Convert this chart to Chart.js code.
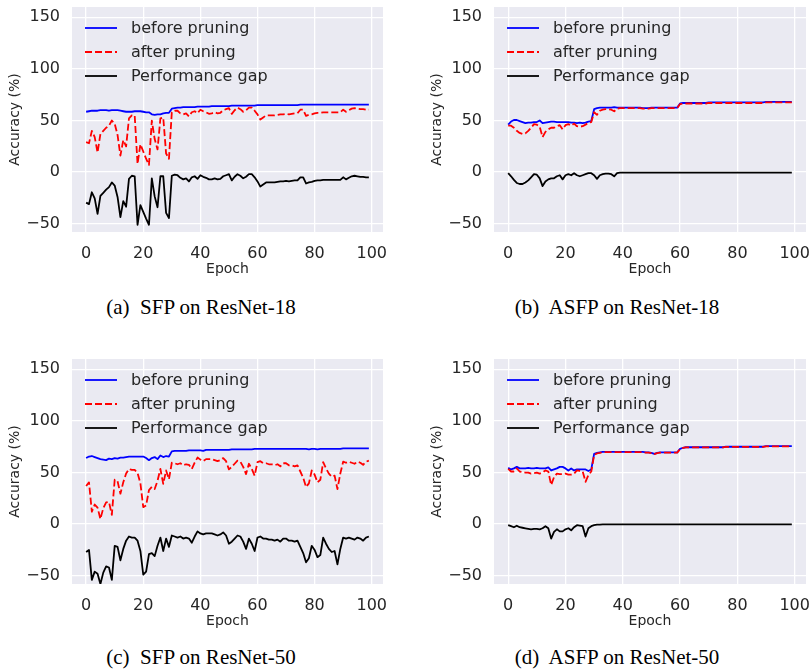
<!DOCTYPE html>
<html><head><meta charset="utf-8">
<script src="https://cdn.jsdelivr.net/npm/chart.js@4.4.0/dist/chart.umd.min.js"></script>
<style>
html,body{margin:0;padding:0;background:#fff;}
body{width:811px;height:670px;position:relative;overflow:hidden;}
canvas{position:absolute;}
.cap{position:absolute;font-family:'Liberation Serif','Times New Roman',serif;font-size:21px;color:#000;white-space:pre;transform:translateX(-50%);line-height:21px;}
</style></head><body>
<canvas id="ca" width="400" height="290" style="left:0px;top:0px"></canvas>
<canvas id="cb" width="389" height="290" style="left:422px;top:0px"></canvas>
<canvas id="cc" width="400" height="290" style="left:0px;top:352px"></canvas>
<canvas id="cd" width="389" height="290" style="left:422px;top:352px"></canvas>
<div class="cap" style="left:201px;top:297px">(a)  SFP on ResNet-18</div>
<div class="cap" style="left:617px;top:297px">(b)  ASFP on ResNet-18</div>
<div class="cap" style="left:201px;top:647px">(c)  SFP on ResNet-50</div>
<div class="cap" style="left:617px;top:647px">(d)  ASFP on ResNet-50</div>
<script>
const seriesNames = ['before pruning', 'after pruning', 'Performance gap'];
const xTicks = [0, 20, 40, 60, 80, 100];
const yTicks = [-50, 0, 50, 100, 150];
const xTitle = 'Epoch';
const yTitle = 'Accuracy (%)';

// (a) SFP on ResNet-18
const beforeA = [58.5,59,59.5,59.5,59.5,60,60,60,59.5,60,
60,60,59.5,59,58.5,58.5,58.5,59,59,59,
58.5,58,58,56,55.5,56,56,57,57.5,57.5,
61.5,62,62.5,62.5,63,63,63,63,63,63.5,
63.5,63.5,63.5,63.5,64,64,64,64,64,64,
64,64.5,64.5,64.5,64.5,64.5,64.5,64.5,64.5,64.5,
65,65,65,65,65,65,65,65,65,65,
65,65,65,65,65,65.5,65.5,65.5,65.5,65.5,
65.5,65.5,65.5,65.5,65.5,65.5,65.5,65.5,65.5,65.5,
65.5,65.5,65.5,65.5,65.5,65.5,65.5,65.5,65.5,65.5];
const afterA = [29,28,40,34,19,37,40,43,45,50,
47,36,16,31,25,52,55,55,8,27,
20,13,7,50,32,22,52,53,18,13,
58,59.5,59.5,57,56,57,54,58,59,57,
60.5,59,58,56.5,57,58,57,57.5,60,61,
62,56.5,60,62.5,61,58.5,60,62.5,62.5,59.5,
56,51,53,55,55,55,55,55.5,56,56,
56.5,56,56.5,57,57,60.5,60.5,54.5,55.5,56,
57,57.5,57.5,58,58,58,58,58,58,58,
60.5,58.5,60,61.5,62,61.5,61,61,60.5,60.5];
const gapA = [-29.5,-31,-19.5,-25.5,-40.5,-23,-20,-17,-14.5,-10,
-13,-24,-43.5,-28,-33.5,-6.5,-3.5,-4,-51,-32,
-38.5,-45,-51,-6,-23.5,-34,-4,-4,-39.5,-44.5,
-3.5,-2.5,-3,-5.5,-7,-6,-9,-5,-4,-6.5,
-3,-4.5,-5.5,-7,-7,-6,-7,-6.5,-4,-3,
-2,-8,-4.5,-2,-3.5,-6,-4.5,-2,-2,-5,
-9,-14,-12,-10,-10,-10,-10,-9.5,-9,-9,
-8.5,-9,-8.5,-8,-8,-5,-5,-11,-10,-9.5,
-8.5,-8,-8,-7.5,-7.5,-7.5,-7.5,-7.5,-7.5,-7.5,
-5,-7,-5.5,-4,-3.5,-4,-4.5,-4.5,-5,-5];

// (b) ASFP on ResNet-18
const beforeB = [46,49,50.5,50.5,49.5,48.5,47.5,48,48,48.5,
48.5,50,47.5,48,48.5,49,49,48.5,48.5,48.5,
48.5,48.5,48,48,47.5,48,47.5,48,49,49.5,
61,62,62.5,62.5,62.5,62.5,62.5,63,62.5,62.5,
62.5,62.5,62.5,62.5,62.5,62.5,62.5,62,62,62,
62.5,62.5,62.5,62.5,62.5,62.5,62.5,62.5,62.5,62.5,
66.5,67,67,67,67,67,67,67,67,67,
67.5,67.5,67.5,67.5,67.5,67.5,67.5,67.5,67.5,67.5,
67.5,67.5,67.5,67.5,67.5,67.5,67.5,67.5,67.5,67.5,
68,68,68,68,68,68,68,68,68,68];
const afterB = [45,45,43,40,38,37,37.5,40,43,46.5,
46,44,34,39,41.5,43,43,44.5,45.5,41.5,
45.5,46.5,45,47,44.5,44,44.5,46,48,48.5,
58,55.5,59.5,60.5,61,61,60.5,59,61.5,62,
62,62,62,62,62,62,62,61.5,61.5,61.5,
62,62,62,62,62,62,62,62,62,62,
66,66.5,66.5,66.5,66.5,66.5,66.5,66.5,66.5,66.5,
67,67,67,67,67,67,67,67,67,67,
67,67,67,67,67,67,67,67,67,67,
67.5,67.5,67.5,67.5,67.5,67.5,67.5,67.5,67.5,67.5];
const gapB = [-1,-4,-7.5,-10.5,-11.5,-11.5,-10,-8,-5,-2,
-2.5,-6,-13.5,-9,-7,-6,-6,-4,-3,-7,
-3,-2,-3,-1,-3,-4,-3,-2,-1,-1,
-3,-6.5,-3,-2,-1.5,-1.5,-2,-4,-1,-0.5,
-0.5,-0.5,-0.5,-0.5,-0.5,-0.5,-0.5,-0.5,-0.5,-0.5,
-0.5,-0.5,-0.5,-0.5,-0.5,-0.5,-0.5,-0.5,-0.5,-0.5,
-0.5,-0.5,-0.5,-0.5,-0.5,-0.5,-0.5,-0.5,-0.5,-0.5,
-0.5,-0.5,-0.5,-0.5,-0.5,-0.5,-0.5,-0.5,-0.5,-0.5,
-0.5,-0.5,-0.5,-0.5,-0.5,-0.5,-0.5,-0.5,-0.5,-0.5,
-0.5,-0.5,-0.5,-0.5,-0.5,-0.5,-0.5,-0.5,-0.5,-0.5];

// (c) SFP on ResNet-50
const beforeC = [64,65.5,66,65,64,63,62.5,62,63.5,63,
64,63.5,64.5,64.5,65,65.5,65.5,65.5,65.5,65.5,
65.5,64,62,64,65,63,66.5,65,66,65.5,
70.5,71,71,71,71,71,71.5,71.5,71.5,71.5,
71.5,71,72,72,72,72,72,72,72,72,
72,72.5,72.5,72.5,72.5,72.5,72.5,72.5,72.5,73,
73,73,73,73,73,73,73,73,73,73,
73,73,73,73,73,73,73,73,72.5,73,
73,72.5,73,73,73,73,73,73,73,73,
73.5,73.5,73.5,73.5,73.5,73.5,73.5,73.5,73.5,73.5];
const afterC = [37,40.5,12,19,16,5,15.5,21,21.5,9,
43,41.5,29.5,40.5,49,53.5,52.5,52.5,49.5,39.5,
16.5,18,33,36,34,42,53.5,39,52,43.5,
59.5,59,58,59,57,58,57.5,53.5,59.5,64.5,
62.5,61,63,63,63,62,61,62,64,61,
53,55.5,58.5,61.5,60.5,55.5,48.5,58.5,53.5,47,
60,61,59,59,58,58,57,58,56,59,
59,57,57,56,57,51,45,36,39.5,52,
48,40.5,43,60,54,49,46,47,34,49,
60.5,59.5,60.5,59.5,58.5,60.5,59.5,57.5,60.5,61.5];
const gapC = [-27,-25,-54,-46,-48,-58,-47,-41,-42,-54,
-21,-22,-35,-24,-16,-12,-13,-13,-16,-26,
-49,-46,-29,-28,-31,-21,-13,-26,-14,-22,
-11,-12,-13,-12,-14,-13,-14,-18,-12,-7,
-9,-10,-9,-9,-9,-10,-11,-10,-8,-11,
-19,-17,-14,-11,-12,-17,-24,-14,-19,-26,
-13,-12,-14,-14,-15,-15,-16,-15,-17,-14,
-14,-16,-16,-17,-16,-22,-28,-37,-33,-21,
-25,-32,-30,-13,-19,-24,-27,-26,-39,-24,
-13,-14,-13,-14,-15,-13,-14,-16,-13,-12];

// (d) ASFP on ResNet-50
const beforeD = [54.5,53,54,55.5,54,54,54,54.5,54,54,
54.5,54,54,54,55,52,53,54,55.5,55.5,
54,52,54,52,53,53,53,53,51.5,53,
68,69,69.5,70,70,70,70,70,70,70,
70,70,70,70,70,70,70,70,69.5,69.5,
69,68,69,69.5,69.5,69.5,69.5,69.5,69.5,69.5,
73,74,74.5,74.5,74.5,74.5,74.5,74.5,74.5,74.5,
74.5,74.5,74.5,74.5,74.5,74.5,75,75,75,75,
75,75,75,75,75,75,75,75,75,75,
75.5,75.5,75.5,75.5,75.5,75.5,75.5,75.5,75.5,75.5];
const afterD = [53.5,51,51,54,51,50.5,50,50,49,49.5,
50,49,50,52,51,38,45.5,49,48.5,48.5,
49,48,48,49,52,51.5,51,41,47.5,51,
67,68.5,69,69.8,69.8,69.8,69.8,69.8,69.8,69.8,
69.8,69.8,69.8,69.8,69.8,69.8,69.8,69.8,69.3,69.3,
68.8,67.8,68.8,69.3,69.3,69.3,69.3,69.3,69.3,69.3,
72.8,73.8,74.3,74.3,74.3,74.3,74.3,74.3,74.3,74.3,
74.3,74.3,74.3,74.3,74.3,74.3,74.8,74.8,74.8,74.8,
74.8,74.8,74.8,74.8,74.8,74.8,74.8,74.8,74.8,74.8,
75.3,75.3,75.3,75.3,75.3,75.3,75.3,75.3,75.3,75.3];
const gapD = [-1,-2,-3,-1.5,-3,-3.5,-4,-4.5,-5,-4.5,
-4.5,-5,-4,-2,-4,-14,-7.5,-5,-7,-7,
-5,-4,-6,-3,-1,-1.5,-2,-12,-4,-2,
-1,-0.5,-0.5,-0.2,-0.2,-0.2,-0.2,-0.2,-0.2,-0.2,
-0.2,-0.2,-0.2,-0.2,-0.2,-0.2,-0.2,-0.2,-0.2,-0.2,
-0.2,-0.2,-0.2,-0.2,-0.2,-0.2,-0.2,-0.2,-0.2,-0.2,
-0.2,-0.2,-0.2,-0.2,-0.2,-0.2,-0.2,-0.2,-0.2,-0.2,
-0.2,-0.2,-0.2,-0.2,-0.2,-0.2,-0.2,-0.2,-0.2,-0.2,
-0.2,-0.2,-0.2,-0.2,-0.2,-0.2,-0.2,-0.2,-0.2,-0.2,
-0.2,-0.2,-0.2,-0.2,-0.2,-0.2,-0.2,-0.2,-0.2,-0.2];

const epochs = beforeA.map((_, i) => i);
const TXT = '#262626';
const FONT = "'DejaVu Sans', sans-serif";

const bgPlugin = {
  id: 'plotBg',
  beforeDraw(chart) {
    const {ctx, chartArea: a} = chart;
    ctx.save();
    ctx.fillStyle = '#EAEAF2';
    ctx.fillRect(a.left, a.top, a.right - a.left, a.bottom - a.top);
    ctx.restore();
  }
};
const legendPlugin = {
  id: 'inLegend',
  afterDatasetsDraw(chart) {
    const {ctx, chartArea: a} = chart;
    ctx.save();
    chart.data.datasets.forEach((ds, i) => {
      const y = a.top + 21 + 24 * i;
      ctx.beginPath();
      ctx.strokeStyle = ds.borderColor;
      ctx.lineWidth = ds.borderWidth;
      ctx.setLineDash(ds.borderDash || []);
      ctx.moveTo(a.left + 13, y);
      ctx.lineTo(a.left + 45, y);
      ctx.stroke();
      ctx.setLineDash([]);
      ctx.fillStyle = TXT;
      ctx.font = '16px ' + FONT;
      ctx.textBaseline = 'middle';
      ctx.textAlign = 'left';
      ctx.fillText(ds.label, a.left + 59, y + 1);
    });
    ctx.restore();
  }
};

function toXY(arr) { return arr.map((v, i) => ({x: epochs[i], y: v})); }

function makeChart(id, before, after, gap, padRight) {
  new Chart(document.getElementById(id), {
    type: 'line',
    data: {
      datasets: [
        {label: seriesNames[0], data: toXY(before), borderColor: '#0000ff', borderWidth: 1.8, order: 2},
        {label: seriesNames[1], data: toXY(after), borderColor: '#ff0000', borderWidth: 1.8, borderDash: [7, 3], order: 1},
        {label: seriesNames[2], data: toXY(gap), borderColor: '#000000', borderWidth: 1.8, order: 0}
      ]
    },
    options: {
      responsive: false,
      animation: false,
      events: [],
      elements: {point: {radius: 0}, line: {tension: 0, borderJoinStyle: 'round', fill: false}},
      layout: {padding: {left: 0, top: 7, right: padRight, bottom: 0}},
      plugins: {legend: {display: false}, tooltip: {enabled: false}},
      scales: {
        x: {
          type: 'linear', min: -4.95, max: 103.95,
          afterBuildTicks: s => { s.ticks = xTicks.map(v => ({value: v})); },
          afterFit: s => { s.height = 58; s.paddingLeft = 0; s.paddingRight = 0; s.paddingTop = 0; s.paddingBottom = 0; },
          border: {display: false},
          grid: {color: '#ffffff', lineWidth: 1.3, drawTicks: false},
          ticks: {color: TXT, font: {family: FONT, size: 16}, padding: 12, maxRotation: 0, autoSkip: false},
          title: {display: true, text: xTitle, color: TXT, font: {family: FONT, size: 14}, padding: {top: 0, bottom: 12.5}}
        },
        y: {
          type: 'linear', min: -58, max: 160,
          afterBuildTicks: s => { s.ticks = yTicks.map(v => ({value: v})); },
          afterFit: s => { s.width = 72; s.paddingTop = 0; s.paddingBottom = 0; s.paddingLeft = 0; s.paddingRight = 0; },
          border: {display: false},
          grid: {color: '#ffffff', lineWidth: 1.3, drawTicks: false},
          ticks: {color: TXT, font: {family: FONT, size: 16}, padding: 12,
                  callback: v => v < 0 ? '\u2212' + Math.abs(v) : String(v)},
          title: {display: true, text: yTitle, color: TXT, font: {family: FONT, size: 14}, padding: {top: 6.5, bottom: 0}}
        }
      }
    },
    plugins: [bgPlugin, legendPlugin]
  });
}

makeChart('ca', beforeA, afterA, gapA, 17);
makeChart('cb', beforeB, afterB, gapB, 5);
makeChart('cc', beforeC, afterC, gapC, 17);
makeChart('cd', beforeD, afterD, gapD, 5);
</script>
</body></html>
